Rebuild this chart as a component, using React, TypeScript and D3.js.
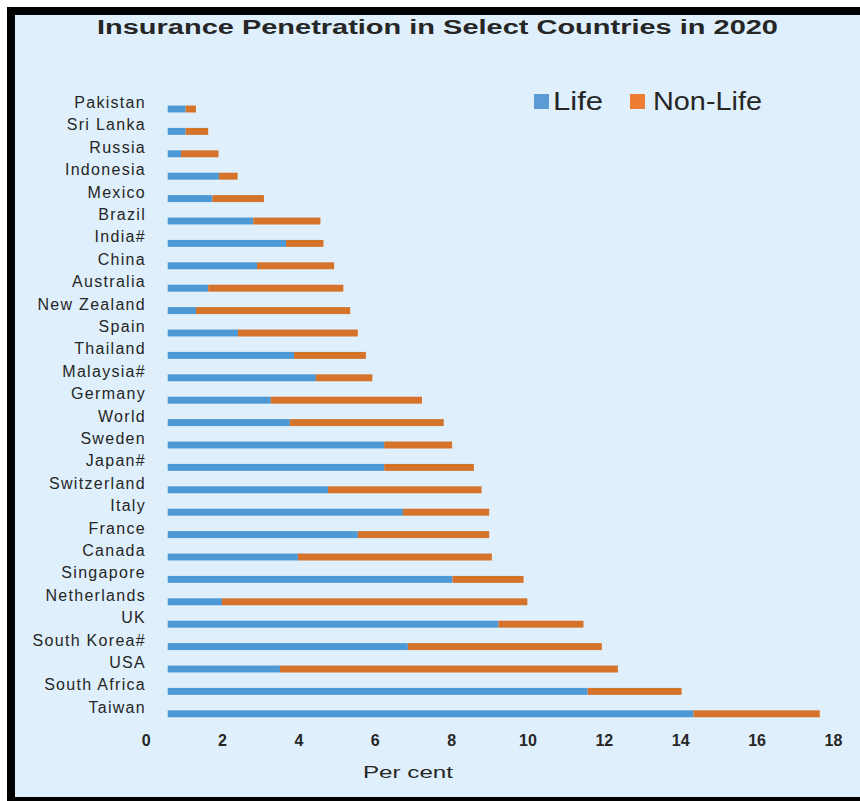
import React from "react";
import * as d3 from "d3";

const countries = [
  "Pakistan", "Sri Lanka", "Russia", "Indonesia", "Mexico", "Brazil", "India#",
  "China", "Australia", "New Zealand", "Spain", "Thailand", "Malaysia#", "Germany",
  "World", "Sweden", "Japan#", "Switzerland", "Italy", "France", "Canada",
  "Singapore", "Netherlands", "UK", "South Korea#", "USA", "South Africa", "Taiwan",
];

const lifeValues = [
  0.47, 0.47, 0.35, 1.34, 1.17, 2.24, 3.1,
  2.34, 1.06, 0.74, 1.84, 3.31, 3.88, 2.7,
  3.2, 5.67, 5.67, 4.2, 6.16, 4.98, 3.41,
  7.46, 1.42, 8.66, 6.29, 2.94, 11.0, 13.77,
];

const nonLifeValues = [
  0.27, 0.59, 0.98, 0.49, 1.35, 1.76, 0.98,
  2.02, 3.54, 4.04, 3.14, 1.88, 1.48, 3.96,
  4.03, 1.78, 2.35, 4.02, 2.26, 3.44, 5.08,
  1.86, 8.0, 2.23, 5.08, 8.85, 2.46, 3.31,
];

const xTicks = [0, 2, 4, 6, 8, 10, 12, 14, 16, 18];
const seriesNames = ["Life", "Non-Life"];

const W = 860;
const H = 801;
const FONT = "'Liberation Sans', Arial, sans-serif";
const TEXT = "#262626";
const BAR_LIFE = "#4d99d5";
const BAR_NONLIFE = "#d5732b";
const KEY_LIFE = "#5b9bd5";
const KEY_NONLIFE = "#ed7d31";

export default function App() {
  const x = d3.scaleLinear().domain([0, 18]).range([167.7, 167.7 + 18 * 38.18]);
  const y = d3
    .scaleBand<string>()
    .domain(countries)
    .range([97.8, 725])
    .paddingInner(0.69)
    .paddingOuter(0.345);

  const rows = countries.map((c, i) => ({
    country: c,
    life: lifeValues[i],
    nonLife: nonLifeValues[i],
  }));
  const stack = d3.stack<any>().keys(["life", "nonLife"])(rows);
  const colors = [BAR_LIFE, BAR_NONLIFE];
  const bw = y.bandwidth();

  return (
    <svg
      width={W}
      height={H}
      style={{ position: "absolute", left: 0, top: 0, fontFamily: FONT }}
    >
      <rect x={0} y={0} width={W} height={H} fill="#ffffff" />
      <rect x={15} y={15} width={W - 15} height={782} fill="#dff0fc" />
      {/* frame */}
      <rect x={7} y={7} width={8} height={H - 7} fill="#000" />
      <rect x={7} y={7} width={W - 7} height={8} fill="#000" />
      <rect x={7} y={797} width={W - 7} height={4} fill="#000" />

      <text
        x={97}
        y={34}
        fontSize={19.5}
        fontWeight="bold"
        fill={TEXT}
        textLength={681}
        lengthAdjust="spacingAndGlyphs"
      >
        Insurance Penetration in Select Countries in 2020
      </text>

      {/* legend */}
      <rect x={534} y={94} width={15} height={15} fill={KEY_LIFE} />
      <text x={553} y={110} fontSize={25} fill={TEXT} textLength={50} lengthAdjust="spacingAndGlyphs">
        {seriesNames[0]}
      </text>
      <rect x={630} y={94} width={15} height={15} fill={KEY_NONLIFE} />
      <text x={653} y={110} fontSize={25} fill={TEXT} textLength={109} lengthAdjust="spacingAndGlyphs">
        {seriesNames[1]}
      </text>

      {/* bars */}
      {stack.map((layer, li) => (
        <g key={layer.key} fill={colors[li]}>
          {layer.map((d, i) => (
            <rect
              key={countries[i]}
              x={x(d[0])}
              y={(y(countries[i]) as number)}
              width={x(d[1]) - x(d[0])}
              height={bw}
            />
          ))}
        </g>
      ))}

      {/* category labels */}
      {countries.map((c) => (
        <text
          key={c}
          x={146}
          y={(y(c) as number) + bw / 2 - 1}
          textAnchor="end"
          fontSize={16}
          letterSpacing={1.3}
          fill={TEXT}
        >
          {c}
        </text>
      ))}

      {/* x axis labels */}
      {xTicks.map((t) => (
        <text
          key={t}
          x={x(t) - 21.5}
          y={746}
          textAnchor="middle"
          fontSize={16}
          fontWeight="bold"
          fill={TEXT}
        >
          {t}
        </text>
      ))}

      <text
        x={363}
        y={778}
        fontSize={16}
        fill={TEXT}
        textLength={90}
        lengthAdjust="spacingAndGlyphs"
      >
        Per cent
      </text>
    </svg>
  );
}
